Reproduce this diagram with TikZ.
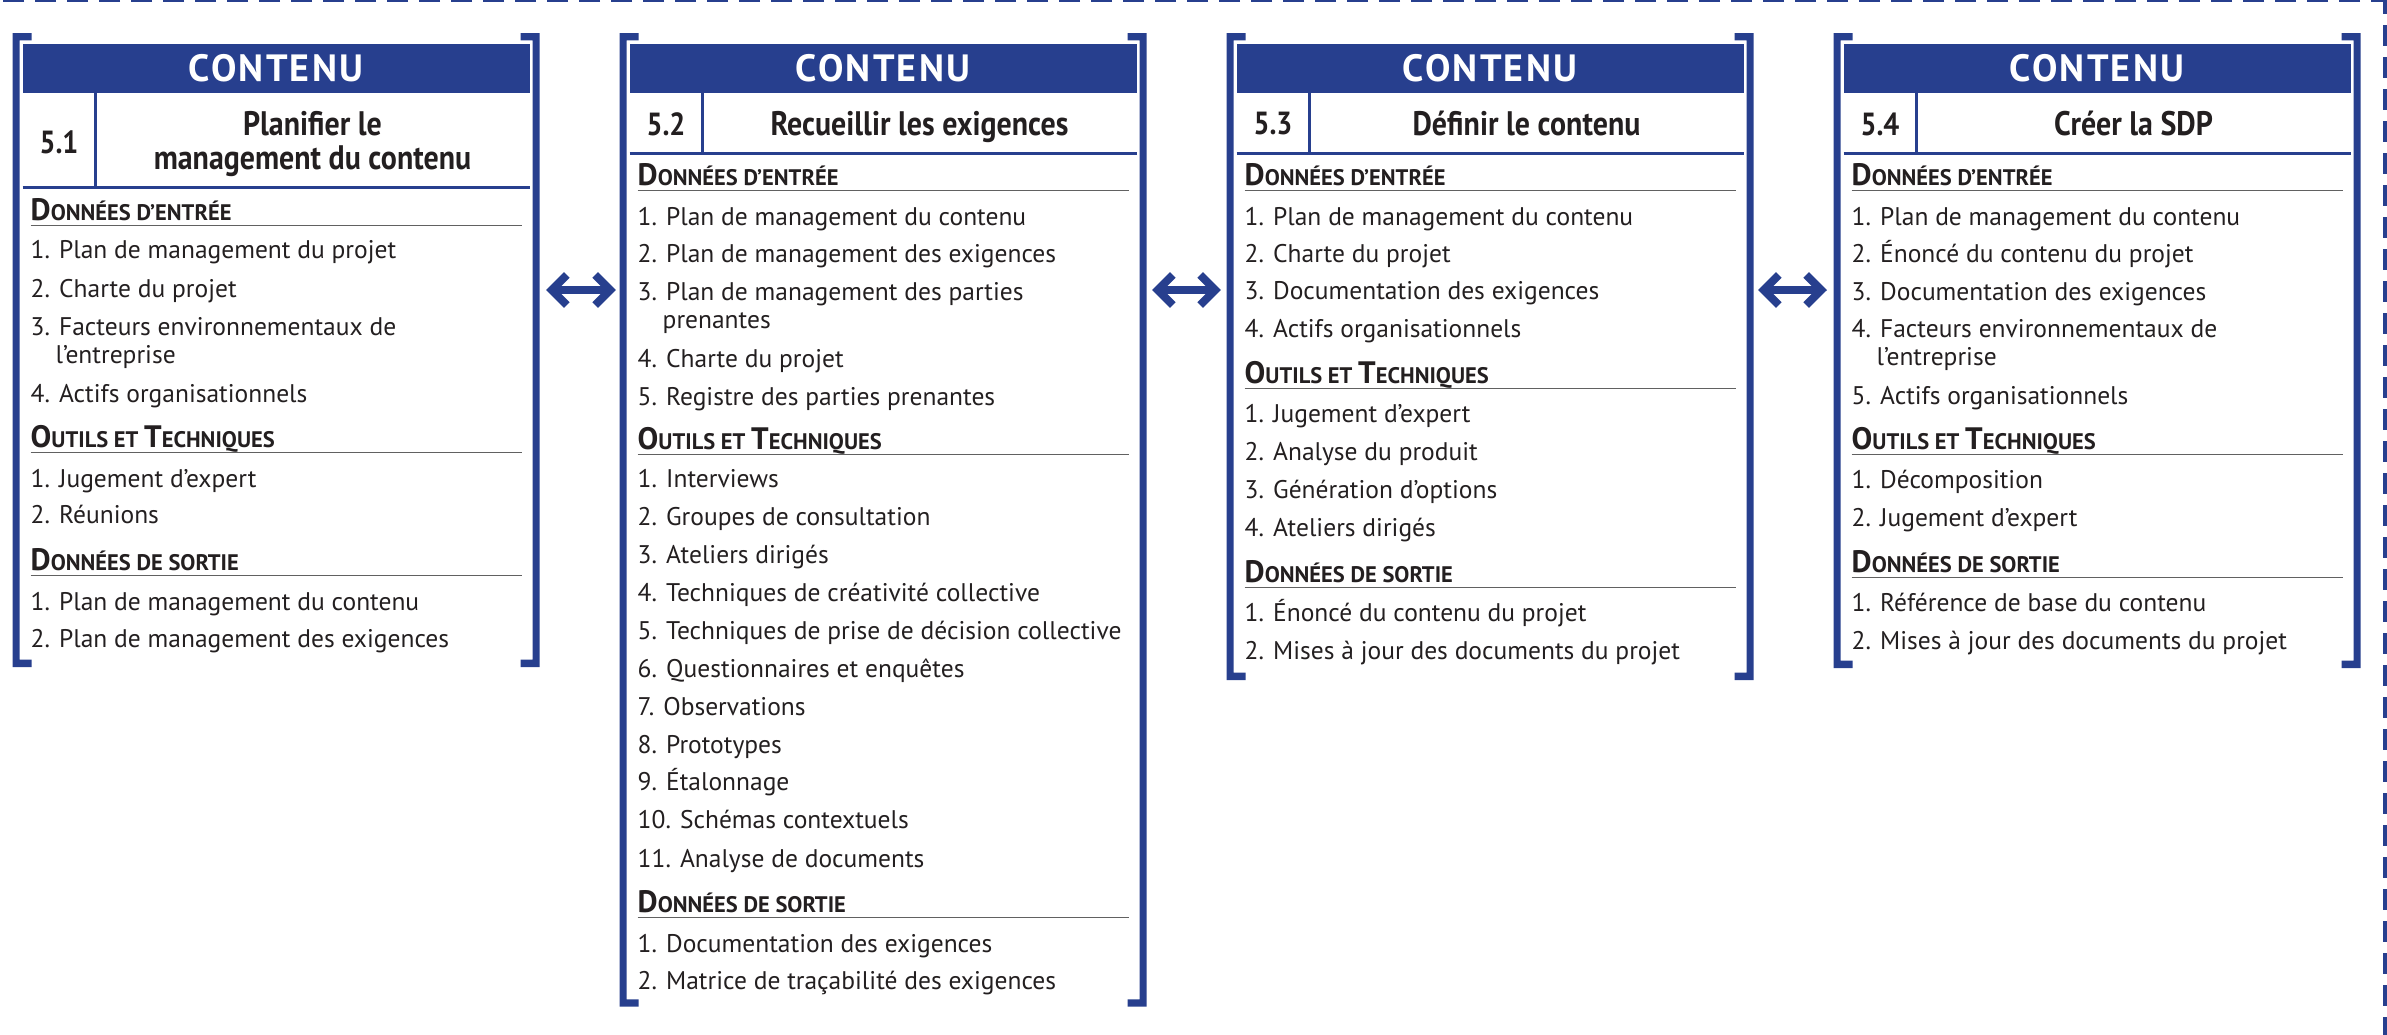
\documentclass[tikz,border=0pt]{standalone}
\usepackage{fontspec}
\setmainfont{PT Sans}
\newfontfamily\condfont{PT Sans}
\newfontfamily\narrowfont{PT Sans}[FakeStretch=0.88]
\newfontfamily\hdrfont{PT Sans}[LetterSpace=6]
\usetikzlibrary{arrows.meta}
\definecolor{pmblue}{RGB}{39,63,142}
\definecolor{ink}{RGB}{35,31,32}
\newcommand\Bg[1]{{\fontsize{31}{32}\selectfont #1}}
\newcommand\Sm[1]{{\fontsize{22.5}{23}\selectfont #1}}
\newcommand\DE{\Bg{D}\Sm{ONNÉES D’ENTRÉE}}
\newcommand\OT{\Bg{O}\Sm{UTILS ET }\Bg{T}\Sm{ECHNIQUES}}
\newcommand\DS{\Bg{D}\Sm{ONNÉES DE SORTIE}}
\tikzset{
  itm/.style={anchor=base west, inner sep=0pt, text=ink, font=\fontsize{25.5}{28}\selectfont},
  hdg/.style={anchor=base west, inner sep=0pt, text=ink, font=\condfont\bfseries},
  ttl/.style={anchor=base, inner sep=0pt, text=ink, font=\narrowfont\bfseries\fontsize{34}{36}\selectfont},
  num/.style={anchor=center, inner sep=0pt, text=ink, font=\narrowfont\bfseries\fontsize{32}{34}\selectfont},
  hdr/.style={fill=pmblue, text=white, inner sep=0pt, minimum width=507pt, minimum height=49.3pt,
              font=\hdrfont\bfseries\fontsize{38}{40}\selectfont},
  ulin/.style={draw=black!62, line width=1.7pt},
  blueln/.style={draw=pmblue, line width=2.7pt},
  brk/.style={fill=pmblue},
  shaft/.style={draw=pmblue, line width=8pt},
  chev/.style={draw=pmblue, line width=8pt, miter limit=4},
  dashln/.style={draw=pmblue, line width=4pt, dash pattern=on 21pt off 11pt, dash phase=7pt}
}
\newcommand\itm[4]{\node[itm] (#1) at (#2+18,#3) {#4};}
\newcommand\itc[4]{\node[itm] (#1) at (#2+43,#3) {#4};}
\newcommand\hd[4]{\node[hdg] (#1) at (#2+18,#3) {#4};\draw[ulin] (#2+18,#3+5.5) -- (#2+509,#3+5.5);}
\newcommand\frm[3]{%
  \fill[brk] (#1,33) -- (#1+19,33) -- (#1+19,40.3) -- (#1+7,40.3) -- (#1+7,#2-7.3) -- (#1+19,#2-7.3) -- (#1+19,#2) -- (#1,#2) -- cycle;
  \fill[brk] (#1+527,33) -- (#1+508,33) -- (#1+508,40.3) -- (#1+520,40.3) -- (#1+520,#2-7.3) -- (#1+508,#2-7.3) -- (#1+508,#2) -- (#1+527,#2) -- cycle;
  \draw[blueln] (#1+83,93.3) -- (#1+83,#3);
  \draw[blueln] (#1+10,#3) -- (#1+517,#3);
}
% double arrow between two named coordinates
\newcommand\biarr[2]{%
  \draw[shaft] ([xshift=6pt]#1) -- ([xshift=-6pt]#2);
  \draw[chev] ([shift={(20.8,-15)}]#1) -- ([shift={(5.7,0)}]#1) -- ([shift={(20.8,15)}]#1);
  \draw[chev] ([shift={(-20.8,-15)}]#2) -- ([shift={(-5.7,0)}]#2) -- ([shift={(-20.8,15)}]#2);
}
\begin{document}
\begin{tikzpicture}[x=1pt,y=-1pt]
\useasboundingbox (0,0) rectangle (2387,1034);
\clip (0,0) rectangle (2387,1034);
% dashed frame
\coordinate (corner) at (2385.2,0);
\coordinate (topend) at (-20,0);
\coordinate (rightend) at (2385.2,1060);
\draw[dashln] (corner) -- (topend);
\draw[dashln] (corner) -- (rightend);

% ---------------- Box 1 ----------------
\frm{12.5}{667}{187.3}
\node[hdr] (h1) at (12.5+263.5,68.65) {CONTENU};
\node[num] (n1) at (12.5+46.5,142) {5.1};
\node[ttl] (t1a) at (12.5+300,135) {Planifier le};
\node[ttl] (t1b) at (12.5+300,169) {management du contenu};
\hd{b1h1}{12.5}{220}{\DE}
\itm{b1a1}{12.5}{258}{1. Plan de management du projet}
\itm{b1a2}{12.5}{297}{2. Charte du projet}
\itm{b1a3}{12.5}{335}{3. Facteurs environnementaux de}
\itc{b1a3c}{12.5}{363}{l’entreprise}
\itm{b1a4}{12.5}{402}{4. Actifs organisationnels}
\hd{b1h2}{12.5}{447}{\OT}
\itm{b1b1}{12.5}{487}{1. Jugement d’expert}
\itm{b1b2}{12.5}{523}{2. Réunions}
\hd{b1h3}{12.5}{570}{\DS}
\itm{b1c1}{12.5}{610}{1. Plan de management du contenu}
\itm{b1c2}{12.5}{647}{2. Plan de management des exigences}

% ---------------- Box 2 ----------------
\frm{619.5}{1006.7}{153.3}
\node[hdr] (h2) at (619.5+263.5,68.65) {CONTENU};
\node[num] (n2) at (619.5+46.5,124) {5.2};
\node[ttl] (t2) at (619.5+300,135) {Recueillir les exigences};
\hd{b2h1}{619.5}{185}{\DE}
\itm{b2a1}{619.5}{225}{1. Plan de management du contenu}
\itm{b2a2}{619.5}{262}{2. Plan de management des exigences}
\itm{b2a3}{619.5}{300}{3. Plan de management des parties}
\itc{b2a3c}{619.5}{328}{prenantes}
\itm{b2a4}{619.5}{367}{4. Charte du projet}
\itm{b2a5}{619.5}{405}{5. Registre des parties prenantes}
\hd{b2h2}{619.5}{449}{\OT}
\itm{b2b1}{619.5}{487}{1. Interviews}
\itm{b2b2}{619.5}{525}{2. Groupes de consultation}
\itm{b2b3}{619.5}{563}{3. Ateliers dirigés}
\itm{b2b4}{619.5}{601}{4. Techniques de créativité collective}
\itm{b2b5}{619.5}{639}{5. Techniques de prise de décision collective}
\itm{b2b6}{619.5}{677}{6. Questionnaires et enquêtes}
\itm{b2b7}{619.5}{715}{7. Observations}
\itm{b2b8}{619.5}{753}{8. Prototypes}
\itm{b2b9}{619.5}{790}{9. Étalonnage}
\itm{b2b10}{619.5}{828}{10. Schémas contextuels}
\itm{b2b11}{619.5}{867}{11. Analyse de documents}
\hd{b2h3}{619.5}{912}{\DS}
\itm{b2c1}{619.5}{952}{1. Documentation des exigences}
\itm{b2c2}{619.5}{989}{2. Matrice de traçabilité des exigences}

% ---------------- Box 3 ----------------
\frm{1226.5}{680}{153.3}
\node[hdr] (h3) at (1226.5+263.5,68.65) {CONTENU};
\node[num] (n3) at (1226.5+46.5,124) {5.3};
\node[ttl] (t3) at (1226.5+300,135) {Définir le contenu};
\hd{b3h1}{1226.5}{185}{\DE}
\itm{b3a1}{1226.5}{225}{1. Plan de management du contenu}
\itm{b3a2}{1226.5}{262}{2. Charte du projet}
\itm{b3a3}{1226.5}{299}{3. Documentation des exigences}
\itm{b3a4}{1226.5}{337}{4. Actifs organisationnels}
\hd{b3h2}{1226.5}{383}{\OT}
\itm{b3b1}{1226.5}{422}{1. Jugement d’expert}
\itm{b3b2}{1226.5}{460}{2. Analyse du produit}
\itm{b3b3}{1226.5}{498}{3. Génération d’options}
\itm{b3b4}{1226.5}{536}{4. Ateliers dirigés}
\hd{b3h3}{1226.5}{582}{\DS}
\itm{b3c1}{1226.5}{621}{1. Énoncé du contenu du projet}
\itm{b3c2}{1226.5}{659}{2. Mises à jour des documents du projet}

% ---------------- Box 4 ----------------
\frm{1833.5}{668}{153.3}
\node[hdr] (h4) at (1833.5+263.5,68.65) {CONTENU};
\node[num] (n4) at (1833.5+46.5,124) {5.4};
\node[ttl] (t4) at (1833.5+300,135) {Créer la SDP};
\hd{b4h1}{1833.5}{185}{\DE}
\itm{b4a1}{1833.5}{225}{1. Plan de management du contenu}
\itm{b4a2}{1833.5}{262}{2. Énoncé du contenu du projet}
\itm{b4a3}{1833.5}{300}{3. Documentation des exigences}
\itm{b4a4}{1833.5}{337}{4. Facteurs environnementaux de}
\itc{b4a4c}{1833.5}{365}{l’entreprise}
\itm{b4a5}{1833.5}{404}{5. Actifs organisationnels}
\hd{b4h2}{1833.5}{449}{\OT}
\itm{b4b1}{1833.5}{488}{1. Décomposition}
\itm{b4b2}{1833.5}{526}{2. Jugement d’expert}
\hd{b4h3}{1833.5}{572}{\DS}
\itm{b4c1}{1833.5}{611}{1. Référence de base du contenu}
\itm{b4c2}{1833.5}{649}{2. Mises à jour des documents du projet}

% ---------------- arrows ----------------
\coordinate (a1s) at (546,290);
\coordinate (a1e) at (616,290);
\coordinate (a2s) at (1152,290);
\coordinate (a2e) at (1221,290);
\coordinate (a3s) at (1758,290);
\coordinate (a3e) at (1827,290);
\biarr{a1s}{a1e}
\biarr{a2s}{a2e}
\biarr{a3s}{a3e}
\end{tikzpicture}
\end{document}
